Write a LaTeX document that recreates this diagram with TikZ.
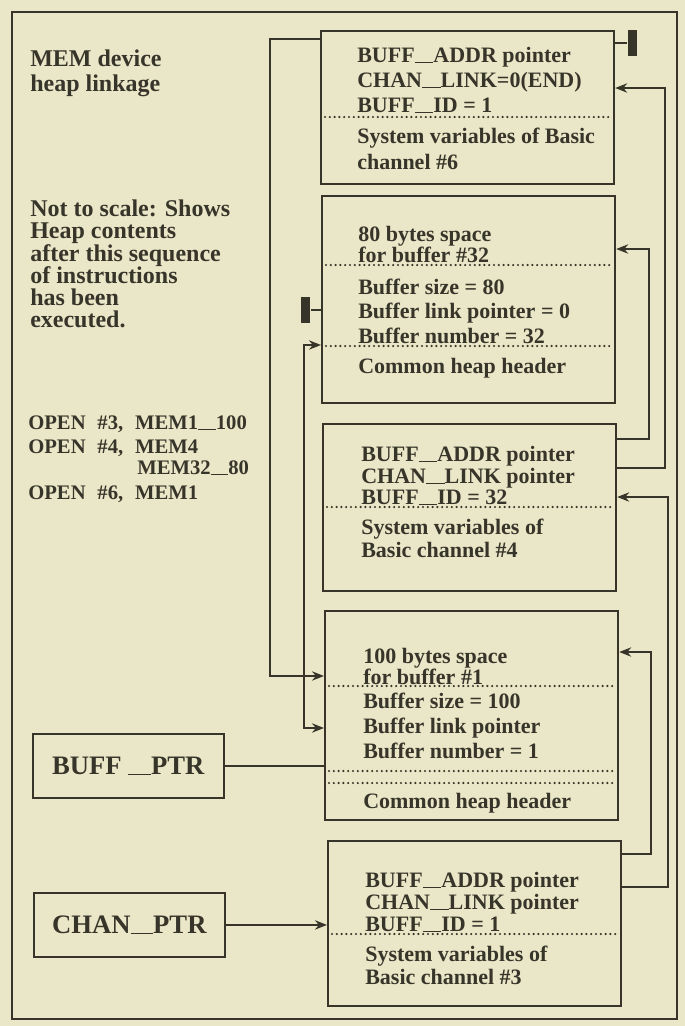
\documentclass[tikz,border=0pt]{standalone}
\usepackage{fontspec}
\setmainfont{Liberation Serif}
\usetikzlibrary{arrows.meta, calc}
\definecolor{paper}{RGB}{234, 231, 200}
\definecolor{ink}{RGB}{55, 53, 42}
\newcommand{\uscore}{\rule[-0.6pt]{0.85em}{0.9pt}}

\begin{document}
\begin{tikzpicture}[
        x=0.75pt, y=-0.75pt,
        heapbox/.style={rectangle, draw=ink, line width=1.4pt, anchor=north west, inner sep=0pt, minimum width=220pt},
        ptrbox/.style={rectangle, draw=ink, line width=1.4pt, anchor=north west, inner sep=0pt, minimum width=143pt, minimum height=48pt, text=ink, font=\fontsize{20}{23}\selectfont\bfseries},
        boxtext/.style={anchor=base west, inner sep=0pt, text=ink, font=\fontsize{16.5}{19}\selectfont\bfseries},
        note/.style={anchor=base west, inner sep=0pt, text=ink, font=\fontsize{18}{21}\selectfont\bfseries},
        cmd/.style={anchor=base west, inner sep=0pt, text=ink, font=\fontsize{15.5}{18}\selectfont\bfseries},
        dots/.style={draw=ink, line width=1.8pt, dash pattern=on 0pt off 3.6pt, line cap=round},
        stopbar/.style={rectangle, fill=ink, inner sep=0pt, minimum width=6.5pt, minimum height=20pt},
        wire/.style={draw=ink, line width=1.3pt},
        link/.style={wire, -{Stealth[length=9pt, width=7pt]}}
    ]
        % paper and frame
        \fill[paper] (0,0) rectangle (685,1026);
        \useasboundingbox (0,0) rectangle (685,1026);
        \draw[ink, line width=1.4pt] (12,12) rectangle (677,1019);

        % Left column notes
        \foreach \yy/\txt [count=\i] in {66/{MEM device}, 91/{heap linkage}}
            \node[note, name=head\i] at (30,\yy) {\txt};
        \foreach \yy/\txt [count=\i] in {216/{Not to scale: Shows}, 238/{Heap contents}, 261/{after this sequence}, 283/{of instructions}, 305/{has been}, 327/{executed.}}
            \node[note, name=scale\i] at (30,\yy) {\txt};
        \node[cmd] (open3) at (28,429) {OPEN\hspace{5pt} \#3,\hspace{5pt} MEM1\uscore 100};
        \node[cmd] (open4) at (28,453) {OPEN\hspace{5pt} \#4,\hspace{5pt} MEM4};
        \node[cmd] (open4b) at (137,474) {MEM32\uscore 80};
        \node[cmd] (open6) at (28,499) {OPEN\hspace{5pt} \#6,\hspace{5pt} MEM1};

        % Heap blocks
        \node[heapbox, minimum height=114.75pt] (chan6) at (320,30) {};
        \node[heapbox, minimum height=155.25pt] (buf32) at (321,195) {};
        \node[heapbox, minimum height=125.25pt] (chan4) at (322,423) {};
        \node[heapbox, minimum height=156.75pt] (buf1) at (324,610) {};
        \node[heapbox, minimum height=123.75pt] (chan3) at (327,840) {};

        % Channel #6
        \foreach \yy/\txt [count=\i] in {62/{BUFF\uscore ADDR pointer}, 87/{CHAN\uscore LINK=0(END)}, 112/{BUFF\uscore ID = 1}, 143/{System variables of Basic}, 169/{channel \#6}}
            \node[boxtext, name=c6t\i] at (357,\yy) {\txt};
        % Buffer #32
        \foreach \yy/\txt [count=\i] in {241/{80 bytes space}, 262/{for buffer \#32}, 294/{Buffer size = 80}, 318/{Buffer link pointer = 0}, 343/{Buffer number = 32}, 373/{Common heap header}}
            \node[boxtext, name=b32t\i] at (358,\yy) {\txt};
        % Channel #4
        \foreach \yy/\txt [count=\i] in {461/{BUFF\uscore ADDR pointer}, 483/{CHAN\uscore LINK pointer}, 504/{BUFF\uscore ID = 32}, 534/{System variables of}, 557/{Basic channel \#4}}
            \node[boxtext, name=c4t\i] at (361,\yy) {\txt};
        % Buffer #1
        \foreach \yy/\txt [count=\i] in {663/{100 bytes space}, 684/{for buffer \#1}, 708/{Buffer size = 100}, 733/{Buffer link pointer}, 758/{Buffer number = 1}, 808/{Common heap header}}
            \node[boxtext, name=b1t\i] at (363,\yy) {\txt};
        % Channel #3
        \foreach \yy/\txt [count=\i] in {887/{BUFF\uscore ADDR pointer}, 909/{CHAN\uscore LINK pointer}, 931/{BUFF\uscore ID = 1}, 961/{System variables of}, 984/{Basic channel \#3}}
            \node[boxtext, name=c3t\i] at (365,\yy) {\txt};

        % dotted separators
        \foreach \b/\yy in {chan6/117, buf32/265, buf32/346, chan4/507, buf1/686, buf1/771, buf1/783, chan3/934}
            \draw[dots] ($(\b.west |- 0,\yy)+(5,0)$) -- ($(\b.east |- 0,\yy)+(-5,0)$);

        % Pointer boxes
        \node[ptrbox] (buffptr) at (32,733) {BUFF \uscore PTR};
        \node[ptrbox] (chanptr) at (33,892) {CHAN\uscore PTR};

        % right side links
        \draw[link] (chan4.east |- 0,439) -- ++(32,0) |- (buf32.east |- 0,249);
        \draw[link] (chan4.east |- 0,468) -- ++(48,0) |- (chan6.east |- 0,88);
        \draw[link] (chan3.east |- 0,854) -- ++(29,0) |- (buf1.east |- 0,652);
        \draw[link] (chan3.east |- 0,887) -- ++(46,0) |- (chan4.east |- 0,497);

        % left side links
        \draw[link] (chan6.west |- 0,39) -- ++(-50,0) |- (buf1.west |- 0,676);
        \draw[link, {Stealth[length=9pt, width=7pt]}-{Stealth[length=9pt, width=7pt]}] (buf1.west |- 0,728) -- ++(-20,0) |- (buf32.west |- 0,345);
        \draw[wire] (buffptr.east) -- (buf1.west |- buffptr.east);
        \draw[link] (chanptr.east) -- (chan3.west |- chanptr.east);

        % end markers
        \draw[wire] (chan6.east |- 0,43) -- ++(12,0) node[stopbar, anchor=west] (stop6) {};
        \draw[wire] (buf32.west |- 0,310) -- ++(-10,0) node[stopbar, anchor=east] (stop32) {};
    \end{tikzpicture}
\end{document}
